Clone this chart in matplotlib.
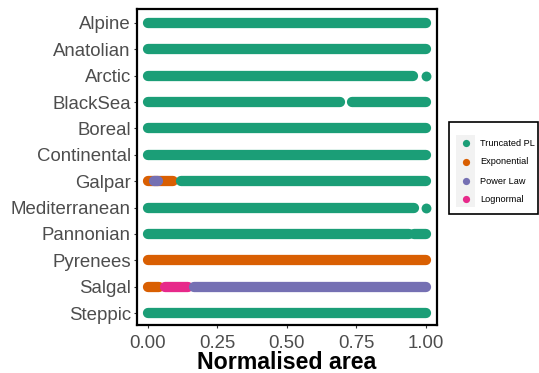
import matplotlib
matplotlib.use("Agg")
import matplotlib.pyplot as plt
from matplotlib.lines import Line2D
from matplotlib.patches import Rectangle

plt.rcParams['font.family'] = ['Liberation Sans', 'DejaVu Sans']

regions = ["Alpine", "Anatolian", "Arctic", "BlackSea", "Boreal", "Continental",
           "Galpar", "Mediterranean", "Pannonian", "Pyrenees", "Salgal", "Steppic"]

classes = ["Truncated PL", "Exponential", "Power Law", "Lognormal"]
class_colors = ["#1B9E77", "#D95F02", "#7570B3", "#E7298A"]

# Continuous runs of overlapping points: region, class, start, end (normalised area)
run_region = ["Alpine", "Anatolian", "Arctic", "BlackSea", "BlackSea", "Boreal",
              "Continental", "Galpar", "Galpar", "Galpar", "Mediterranean",
              "Pannonian", "Pannonian", "Pyrenees", "Salgal", "Salgal", "Salgal",
              "Steppic"]
run_class = ["Truncated PL", "Truncated PL", "Truncated PL", "Truncated PL", "Truncated PL",
             "Truncated PL", "Truncated PL", "Exponential", "Power Law", "Truncated PL",
             "Truncated PL", "Truncated PL", "Truncated PL", "Exponential",
             "Exponential", "Lognormal", "Power Law", "Truncated PL"]
run_start = [0.0, 0.0, 0.0, 0.0, 0.735, 0.0, 0.0, 0.0, 0.02, 0.12, 0.0, 0.0, 0.958,
             0.0, 0.0, 0.06, 0.165, 0.0]
run_end = [1.0, 1.0, 0.955, 0.692, 1.0, 1.0, 1.0, 0.09, 0.035, 1.0, 0.957, 0.94, 1.0,
           1.0, 0.04, 0.145, 1.0, 1.0]

# Isolated points
point_region = ["Arctic", "Mediterranean"]
point_class = ["Truncated PL", "Truncated PL"]
point_x = [1.0, 1.0]

W, H = 539, 373
fig = plt.figure(figsize=(W / 100, H / 100), dpi=100)
ax = fig.add_axes([137 / W, (H - 325) / H, 300 / W, 316 / H])

ypos = {r: len(regions) - i for i, r in enumerate(regions)}
cmap = dict(zip(classes, class_colors))
dot_pt = 7.4

for r, c, s, e in zip(run_region, run_class, run_start, run_end):
    ax.plot([s, e], [ypos[r], ypos[r]], color=cmap[c], lw=dot_pt,
            solid_capstyle='round', zorder=2)
for r, c, x in zip(point_region, point_class, point_x):
    ax.plot([x], [ypos[r]], 'o', color=cmap[c], ms=dot_pt - 0.3, mew=0, zorder=2)

ax.set_xlim(-0.0396, 1.0414)
ax.set_ylim(0.545, 12.53)
ax.set_yticks([ypos[r] for r in regions])
ax.set_yticklabels(regions)
ax.set_xticks([0, 0.25, 0.5, 0.75, 1.0])
ax.set_xticklabels(["0.00", "0.25", "0.50", "0.75", "1.00"])
ax.tick_params(labelsize=13.4, labelcolor="#4D4D4D", color="#333333",
               length=2.5, width=0.8, pad=2)
ax.tick_params(axis='x', pad=5)
for sp in ax.spines.values():
    sp.set_linewidth(1.6)
    sp.set_color("black")
ax.set_xlabel("Normalised area", fontsize=16.7, fontweight="bold", color="black",
              labelpad=-1)

# Legend (drawn in figure pixel coordinates)
def fx(px):
    return px / W

def fy(py):
    return (H - py) / H

fig.patches.append(Rectangle((fx(449), fy(214)), fx(538) - fx(449), fy(122) - fy(214),
                             transform=fig.transFigure, facecolor="white",
                             edgecolor="black", lw=1.2, zorder=0))
fig.patches.append(Rectangle((fx(456), fy(207)), fx(475) - fx(456), fy(135) - fy(207),
                             transform=fig.transFigure, facecolor="#F2F2F2",
                             edgecolor="none", zorder=1))
key_y = [143, 162, 181, 199]
for c, col, ky in zip(classes, class_colors, key_y):
    fig.lines.append(Line2D([fx(465.5)], [fy(ky)], marker='o', color=col, ms=5.2,
                            mew=0, transform=fig.transFigure, zorder=2))
    fig.text(fx(480), fy(ky), c, fontsize=6.6, color="black", va="center", ha="left")

fig.savefig("out.png", dpi=100)
